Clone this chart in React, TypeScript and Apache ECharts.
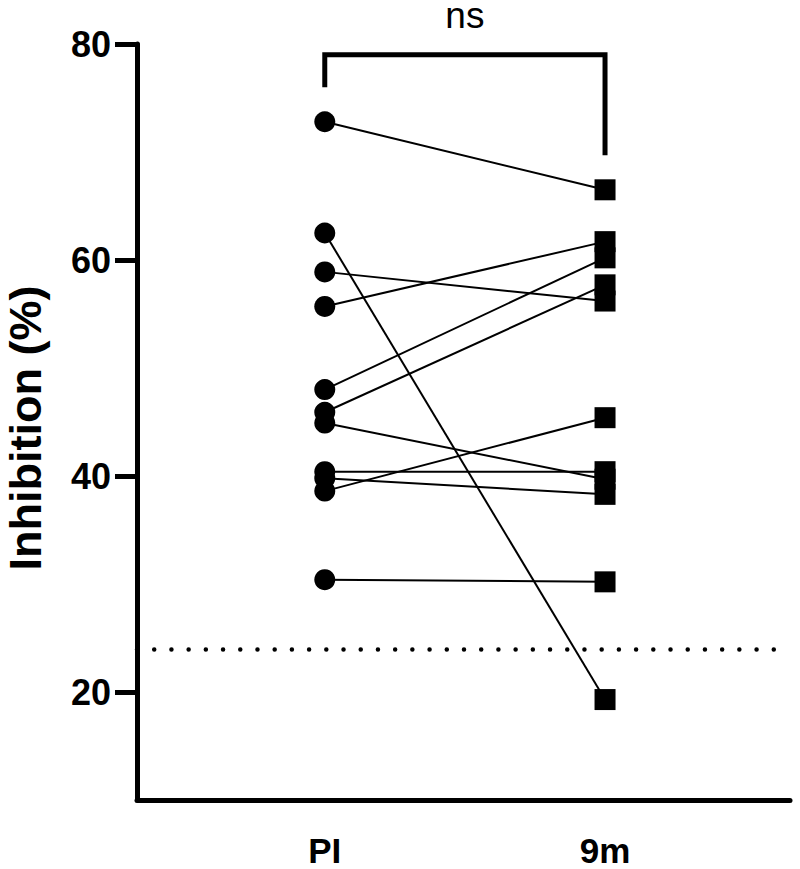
import React, { useEffect, useRef } from "react";
import * as echarts from "echarts";

const CATEGORIES = ["PI", "9m"];
const PI_VALUES = [72.8, 62.5, 58.9, 55.7, 48.0, 45.9, 44.9, 40.4, 39.8, 38.6, 30.4];
const M9_VALUES = [66.5, 19.3, 56.2, 61.7, 60.2, 57.7, 39.7, 40.4, 38.3, 45.4, 30.2];
const Y_TICKS = [20, 40, 60, 80];
const Y_MIN = 10;
const Y_MAX = 80;
const X_MIN = 0.33;
const X_MAX = 2.66;
const THRESHOLD = 24;
const BRACKET_TOP = 79;
const BRACKET_LEFT_END = 76;
const BRACKET_RIGHT_END = 69.7;
const SIG_LABEL = "ns";

const FONT = "'Liberation Sans', Arial, Helvetica, sans-serif";

export default function App() {
  const ref = useRef<HTMLDivElement>(null);

  useEffect(() => {
    if (!ref.current) return;
    const chart = echarts.init(ref.current, undefined, { renderer: "svg" });

    const pairSeries = PI_VALUES.map((v, i) => ({
      type: "line",
      data: [
        [1, v],
        [2, M9_VALUES[i]],
      ],
      showSymbol: false,
      symbol: "none",
      lineStyle: { color: "#000", width: 2, opacity: 1 },
      z: 2,
      silent: true,
    }));

    const option = {
      animation: false,
      grid: {
        left: 137,
        right: 10,
        top: 44,
        bottom: 69,
        containLabel: false,
        outerBoundsMode: "none",
      },
      xAxis: {
        type: "value",
        min: X_MIN,
        max: X_MAX,
        axisLine: { show: true, lineStyle: { color: "#000", width: 5 } },
        axisTick: { show: false },
        splitLine: { show: false },
        axisLabel: {
          customValues: [1, 2],
          formatter: (v: number) => CATEGORIES[Math.round(v) - 1] ?? "",
          color: "#000",
          fontSize: 35,
          lineHeight: 30,
          fontWeight: "bold",
          fontFamily: FONT,
          margin: 35,
        },
      },
      yAxis: {
        type: "value",
        min: Y_MIN,
        max: Y_MAX,
        name: "Inhibition (%)",
        nameLocation: "middle",
        nameGap: 91,
        nameTextStyle: {
          color: "#000",
          fontSize: 45,
          lineHeight: 42,
          fontWeight: "bold",
          fontFamily: FONT,
          padding: [0, 12, 0, 0],
        },
        axisLine: { show: true, lineStyle: { color: "#000", width: 5 } },
        axisTick: {
          show: true,
          customValues: Y_TICKS,
          length: 22,
          lineStyle: { color: "#000", width: 5 },
        },
        splitLine: { show: false },
        axisLabel: {
          customValues: Y_TICKS,
          color: "#000",
          fontSize: 36,
          fontWeight: "bold",
          fontFamily: FONT,
          margin: 26,
        },
      },
      series: [
        ...pairSeries,
        {
          type: "line",
          data: [
            [1, BRACKET_LEFT_END],
            [1, BRACKET_TOP],
            [2, BRACKET_TOP],
            [2, BRACKET_RIGHT_END],
          ],
          symbol: "none",
          showSymbol: false,
          lineStyle: { color: "#000", width: 5, cap: "butt", join: "miter", opacity: 1 },
          silent: true,
          z: 3,
        },
        {
          type: "scatter",
          data: [[1.5, BRACKET_TOP]],
          symbolSize: 1,
          itemStyle: { color: "rgba(0,0,0,0)", opacity: 1 },
          label: {
            show: true,
            formatter: SIG_LABEL,
            position: "top",
            distance: 25,
            color: "#000",
            opacity: 1,
            fontSize: 37,
            lineHeight: 27,
            fontFamily: FONT,
          },
          silent: true,
          z: 3,
        },
        {
          type: "scatter",
          data: PI_VALUES.map((v) => [1, v]),
          symbol: "circle",
          symbolSize: 21,
          itemStyle: { color: "#000", opacity: 1 },
          silent: true,
          z: 4,
          markLine: {
            silent: true,
            symbol: "none",
            label: { show: false },
            lineStyle: { color: "#000", width: 4.5, type: [0.01, 17.2], cap: "round", opacity: 1 },
            data: [{ yAxis: THRESHOLD }],
          },
        },
        {
          type: "scatter",
          data: M9_VALUES.map((v) => [2, v]),
          symbol: "rect",
          symbolSize: 21,
          itemStyle: { color: "#000", opacity: 1 },
          silent: true,
          z: 4,
        },
      ],
    };

    chart.setOption(option as any);
    return () => chart.dispose();
  }, []);

  return (
    <div
      ref={ref}
      style={{ position: "fixed", left: 0, top: 0, width: 800, height: 869, background: "#fff" }}
    />
  );
}
